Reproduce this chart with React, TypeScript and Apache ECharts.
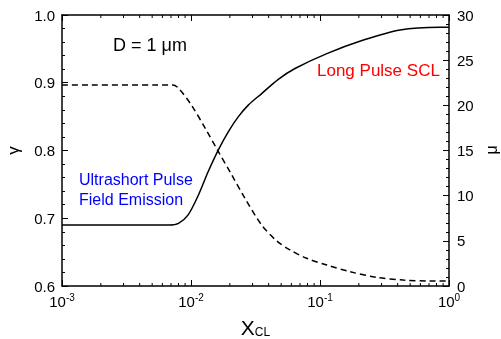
import React, { useEffect, useRef } from "react";
import * as echarts from "echarts";

const xGamma = [0.001, 0.0068, 0.008, 0.0095, 0.0114, 0.0136, 0.0163, 0.0195, 0.0233, 0.0278, 0.0353, 0.0475, 0.064, 0.113, 0.217, 0.417, 0.85, 1.0];
const gamma = [0.69, 0.69, 0.6925, 0.705, 0.734, 0.769, 0.801, 0.828, 0.85, 0.867, 0.884, 0.905, 0.921, 0.943, 0.963, 0.978, 0.982, 0.982];

const xMu = [0.001, 0.0072, 0.008, 0.0101, 0.0129, 0.0163, 0.0207, 0.0262, 0.0353, 0.0461, 0.0585, 0.0789, 0.113, 0.171, 0.275, 0.443, 0.713, 1.0];
const mu = [22.25, 22.25, 21.9, 20.0, 17.46, 14.87, 12.29, 9.71, 6.75, 5.0, 3.99, 3.07, 2.32, 1.58, 0.96, 0.66, 0.55, 0.55];

const xMinorTicks = [
  0.002, 0.003, 0.004, 0.005, 0.006, 0.007, 0.008, 0.009,
  0.02, 0.03, 0.04, 0.05, 0.06, 0.07, 0.08, 0.09,
  0.2, 0.3, 0.4, 0.5, 0.6, 0.7, 0.8, 0.9,
];

const FONT = "'Liberation Sans', Arial, Helvetica, sans-serif";

export default function App() {
  const ref = useRef<HTMLDivElement>(null);
  useEffect(() => {
    if (!ref.current) return;
    const chart = echarts.init(ref.current, null, { renderer: "svg" });
    const axisLineStyle = { color: "#000", width: 1.5 };
    const xLabelRich = {
      b: { fontSize: 15, fontFamily: FONT, color: "#000" },
      s: { fontSize: 10, fontFamily: FONT, color: "#000", verticalAlign: "top" as const, padding: [0, 0, 8, 0] },
    };
    chart.setOption({
      animation: false,
      grid: { left: 62, right: 52, top: 15, bottom: 53, containLabel: false, outerBoundsMode: "none" },
      xAxis: [
        {
          type: "log",
          logBase: 10,
          min: 0.001,
          max: 1,
          position: "bottom",
          axisLine: { show: true, lineStyle: axisLineStyle },
          axisTick: { show: true, inside: true, length: 6, lineStyle: { color: "#000", width: 1 } },
          minorTick: { show: false },
          splitLine: { show: false },
          axisLabel: {
            margin: 6,
            hideOverlap: false,
            formatter: (v: number) => `{b|10}{s|${Math.round(Math.log10(v))}}`,
            rich: xLabelRich,
          },
          name: "{x|X}{s|CL}",
          nameLocation: "middle",
          nameGap: 30,
          nameTextStyle: {
            rich: {
              x: { fontSize: 21, fontFamily: FONT, color: "#000" },
              s: { fontSize: 12, fontFamily: FONT, color: "#000", padding: [10, 0, 0, 0] },
            },
          },
        },
        {
          type: "log",
          logBase: 10,
          min: 0.001,
          max: 1,
          position: "top",
          axisLine: { show: true, lineStyle: axisLineStyle },
          axisTick: { show: true, inside: true, length: 6, lineStyle: { color: "#000", width: 1 } },
          axisLabel: { show: false },
          splitLine: { show: false },
        },
      ],
      yAxis: [
        {
          type: "value",
          min: 0.6,
          max: 1.0,
          interval: 0.1,
          position: "left",
          axisLine: { show: true, lineStyle: axisLineStyle },
          axisTick: { show: true, inside: true, length: 6, lineStyle: { color: "#000", width: 1 } },
          minorTick: { show: true, splitNumber: 5, length: 3, lineStyle: { color: "#000", width: 1 } },
          splitLine: { show: false },
          axisLabel: {
            margin: 7,
            fontSize: 15,
            fontFamily: FONT,
            color: "#000",
            formatter: (v: number) => v.toFixed(1),
          },
          name: "γ",
          nameLocation: "middle",
          nameRotate: 90,
          nameGap: 40,
          nameTextStyle: { fontSize: 17, fontFamily: FONT, color: "#000" },
        },
        {
          type: "value",
          min: 0,
          max: 30,
          interval: 5,
          position: "right",
          axisLine: { show: true, lineStyle: axisLineStyle },
          axisTick: { show: true, inside: true, length: 6, lineStyle: { color: "#000", width: 1 } },
          minorTick: { show: true, splitNumber: 5, length: 3, lineStyle: { color: "#000", width: 1 } },
          splitLine: { show: false },
          axisLabel: { margin: 8, fontSize: 15, fontFamily: FONT, color: "#000" },
        },
      ],
      series: [
        {
          type: "line",
          name: "gamma",
          xAxisIndex: 0,
          yAxisIndex: 0,
          data: xGamma.map((x, i) => [x, gamma[i]]),
          showSymbol: false,
          smooth: 0.3,
          lineStyle: { color: "#000", width: 1.5, type: "solid" },
        },
        {
          type: "line",
          name: "mu",
          xAxisIndex: 0,
          yAxisIndex: 1,
          data: xMu.map((x, i) => [x, mu[i]]),
          showSymbol: false,
          smooth: 0.3,
          lineStyle: { color: "#000", width: 1.5, type: [6, 4] },
        },
        {
          type: "custom",
          name: "xMinorTicks",
          xAxisIndex: 0,
          yAxisIndex: 0,
          silent: true,
          clip: false,
          data: xMinorTicks.map((x) => [x, 0.6]),
          renderItem: (params: any, api: any) => {
            const pt = api.coord([api.value(0), api.value(1)]);
            const cs = params.coordSys;
            const x = pt[0];
            const top = cs.y;
            const bottom = cs.y + cs.height;
            return {
              type: "group",
              children: [
                { type: "line", shape: { x1: x, y1: bottom, x2: x, y2: bottom - 3 }, style: { stroke: "#000", lineWidth: 1 } },
                { type: "line", shape: { x1: x, y1: top, x2: x, y2: top + 3 }, style: { stroke: "#000", lineWidth: 1 } },
              ],
            };
          },
        },
      ],
      graphic: [
        {
          type: "text",
          left: 113,
          top: 36,
          style: { text: "D = 1 μm", fill: "#000", font: `18px ${FONT}` },
        },
        {
          type: "text",
          left: 317,
          top: 62,
          style: { text: "Long Pulse SCL", fill: "#ff0000", font: `17px ${FONT}` },
        },
        {
          type: "text",
          left: 79,
          top: 169,
          style: { text: "Ultrashort Pulse\nField Emission", fill: "#0000ff", font: `16px ${FONT}`, lineHeight: 20 },
        },
        {
          type: "text",
          x: 491,
          y: 150,
          rotation: Math.PI / 2,
          style: { text: "μ", fill: "#000", font: `16px ${FONT}`, align: "center", verticalAlign: "middle" },
        },
      ],
    });
    return () => chart.dispose();
  }, []);
  return <div ref={ref} style={{ position: "fixed", left: 0, top: 0, width: 501, height: 339 }} />;
}
